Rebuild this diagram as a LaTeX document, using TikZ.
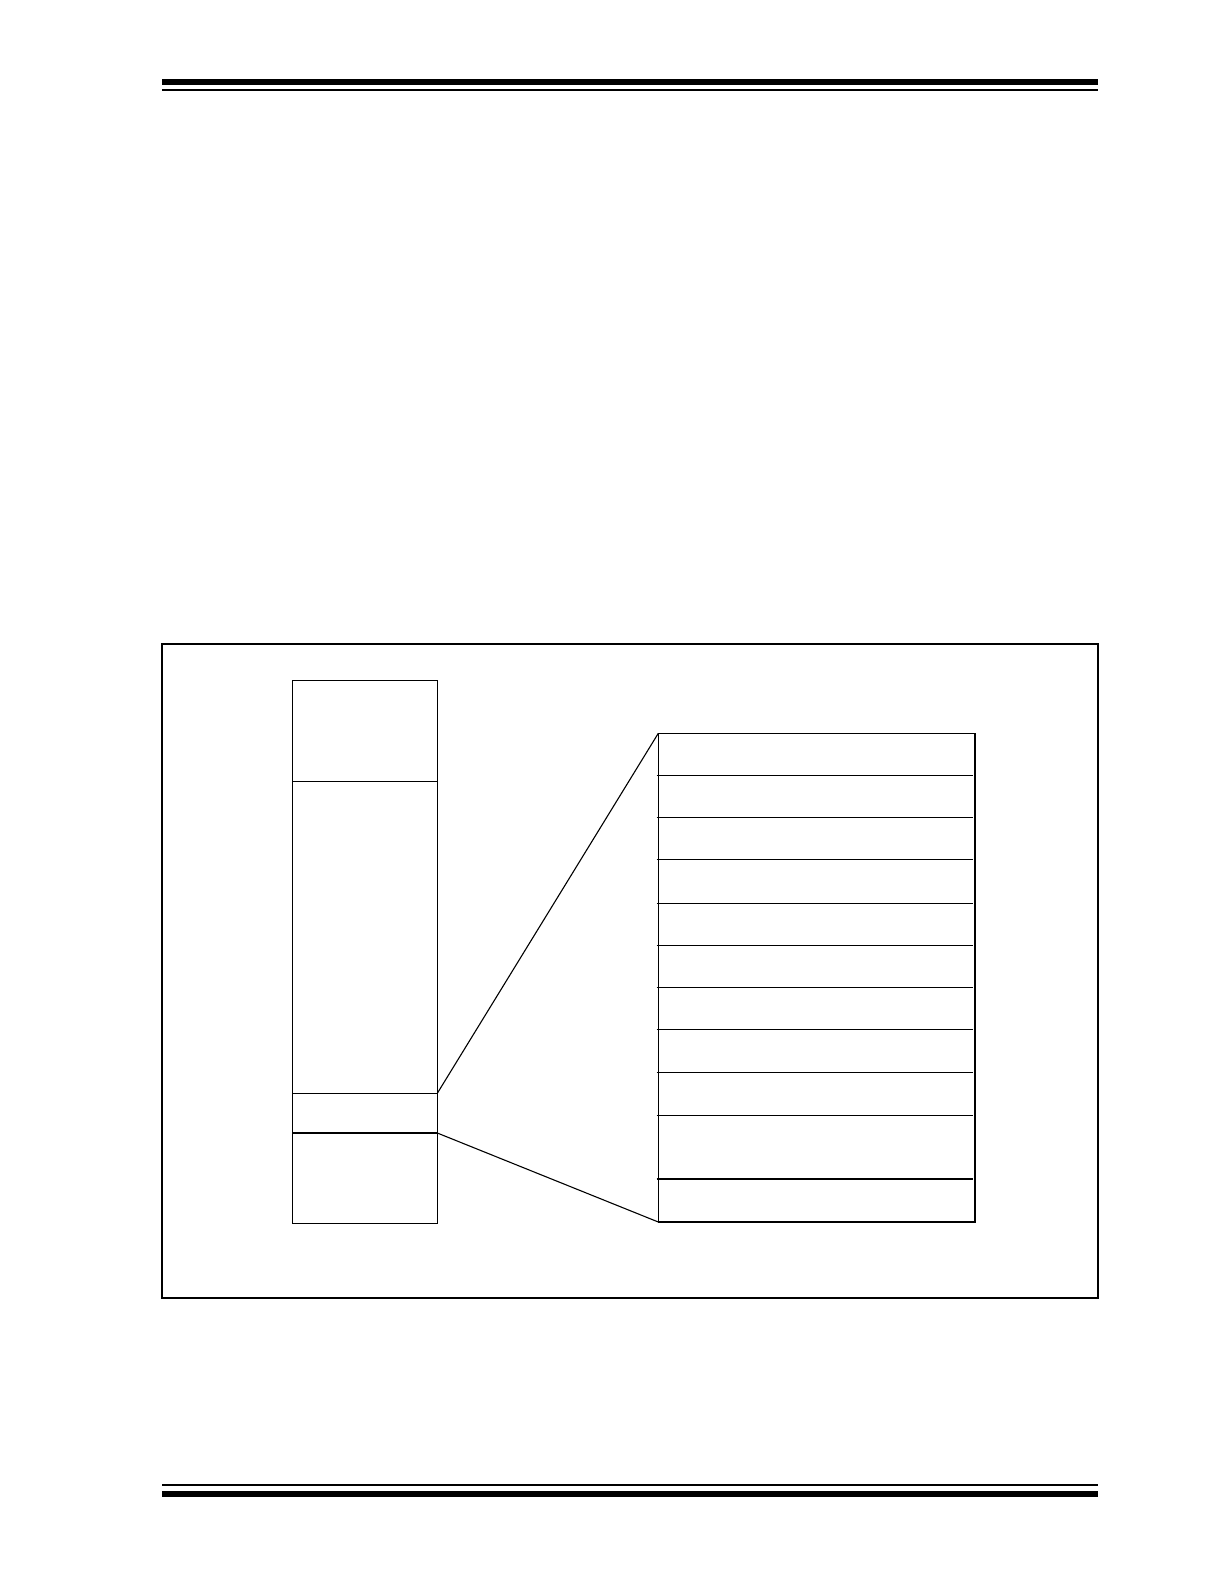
\documentclass[tikz,border=0pt]{standalone}
\begin{document}
\begin{tikzpicture}[x=0.5pt,y=-0.5pt,
  rule/.style={line width=#1,line cap=butt},
  frame/.style={draw=black,line width=1.2pt},
  cell/.style={draw=black,line width=0.6pt},
  connector/.style={draw=black,line width=0.55pt}]
\useasboundingbox (0,0) rectangle (1224,1584);
\fill[white] (0,0) rectangle (1224,1584);
% header rules
\draw[rule=3pt] (162,82) -- (1098,82);
\draw[rule=1pt] (162,90) -- (1098,90);
% footer rules
\draw[rule=1pt] (162,1485.3) -- (1098,1485.3);
\draw[rule=3pt] (162,1494) -- (1098,1494);
% figure frame
\draw[frame] (161.7,644) rectangle (1097.7,1298);
% left memory column
\coordinate (Ltl) at (292.3,680.3);
\coordinate (Lbr) at (437.3,1223.3);
\draw[cell] (Ltl) rectangle (Lbr);
\foreach \yy in {781.3,1093.3,1133} \draw[cell] (292.3,\yy) -- (437.3,\yy);
\coordinate (Lsa) at (437.3,1093.3);
\coordinate (Lsb) at (437.3,1133);
% right expanded table
\coordinate (Rtl) at (658.3,733.3);
\coordinate (Rbr) at (975,1222);
\coordinate (Rbl) at (658.3,1222);
\draw[cell] (Rtl) rectangle (Rbr);
\foreach \yy in {775.3,817.3,859.3,903.3,945.3,987.3,1029.3,1072.3,1115.3,1179}
  \draw[cell] (656.7,\yy) -- (972.7,\yy);
% connectors
\draw[connector] (Lsa) -- (Rtl);
\draw[connector] (Lsb) -- (Rbl);
\end{tikzpicture}
\end{document}
